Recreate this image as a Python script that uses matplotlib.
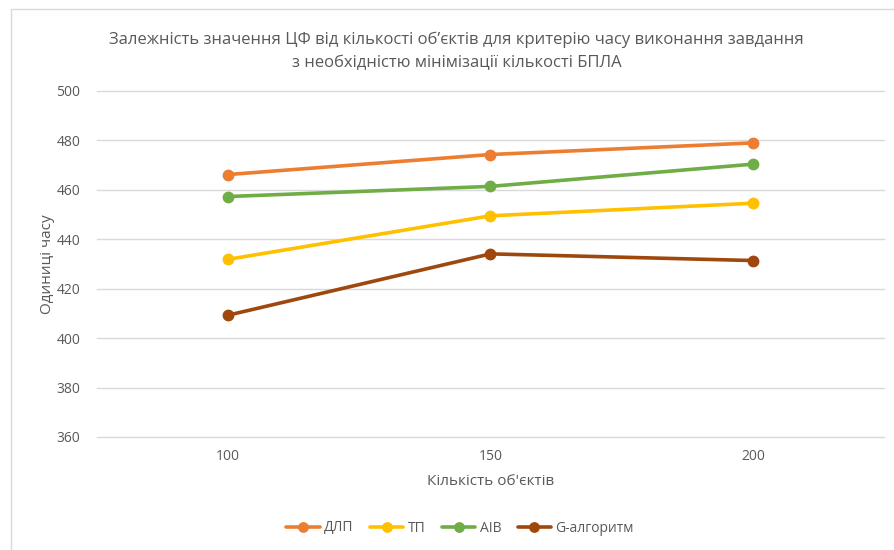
import matplotlib
matplotlib.use("Agg")
import matplotlib.pyplot as plt
from matplotlib.patches import Rectangle

plt.rcParams['font.family'] = ['Open Sans', 'DejaVu Sans']

# Data
objects = ["100", "150", "200"]
series_names = ["ДЛП", "ТП", "AIB", "G-алгоритм"]
dlp = [466.2, 474.3, 479.0]
tp = [431.9, 449.5, 454.6]
aib = [457.3, 461.4, 470.4]
g_alg = [409.3, 434.1, 431.4]
colors = ["#ED7D31", "#FFC000", "#70AD47", "#9E480E"]
y_ticks = [360, 380, 400, 420, 440, 460, 480, 500]

title = ("Залежність значення ЦФ від кількості об’єктів для критерію часу виконання завдання\n"
         "з необхідністю мінімізації кількості БПЛА")
x_label = "Кількість об'єктів"
y_label = "Одиниці часу"

text_color = "#595959"
grid_color = "#D9D9D9"

fig = plt.figure(figsize=(8.95, 5.5), dpi=100)
fig.patch.set_facecolor("white")

# chart area outline
fig.add_artist(Rectangle((11 / 895, -0.05), 2.0, (550 - 9) / 550 + 0.05,
                         transform=fig.transFigure, fill=False,
                         edgecolor="#D9D9D9", linewidth=1.0))

ax = fig.add_axes([97 / 895, 1 - 437 / 550, (884 - 97) / 895, (437 - 91) / 550])

positions = list(range(len(objects)))
for name, values, color in zip(series_names, [dlp, tp, aib, g_alg], colors):
    ax.plot(positions, values, color=color, linewidth=2.6, marker="o",
            markersize=7.5, label=name, solid_capstyle="round", zorder=3)

ax.set_xlim(-0.5, len(objects) - 0.5)
ax.set_ylim(360, 500)
ax.set_yticks(y_ticks)
ax.set_xticks(positions)
ax.set_xticklabels(objects)
ax.grid(axis="y", color=grid_color, linewidth=1.0, zorder=0)
ax.set_axisbelow(True)
for gl in ax.get_ygridlines():
    gl.set_clip_on(False)
for spine in ax.spines.values():
    spine.set_visible(False)
ax.tick_params(axis="both", length=0, labelsize=10, colors=text_color)
ax.tick_params(axis="y", pad=12)
ax.tick_params(axis="x", pad=9)

ax.set_xlabel(x_label, fontsize=11, color=text_color, labelpad=7)
ax.set_ylabel(y_label, fontsize=11, color=text_color, labelpad=1)

fig.text(0.51, 1 - 51 / 550, title, ha="center", va="center",
         fontsize=12.0, color=text_color, linespacing=1.6)

leg = fig.legend(loc="center", bbox_to_anchor=(460 / 895, 1 - 528 / 550),
                 ncol=4, frameon=False, fontsize=10, handlelength=2.4,
                 columnspacing=1.2, handletextpad=0.3, markerscale=0.9)
for t in leg.get_texts():
    t.set_color(text_color)

fig.savefig("out.png", dpi=100)
